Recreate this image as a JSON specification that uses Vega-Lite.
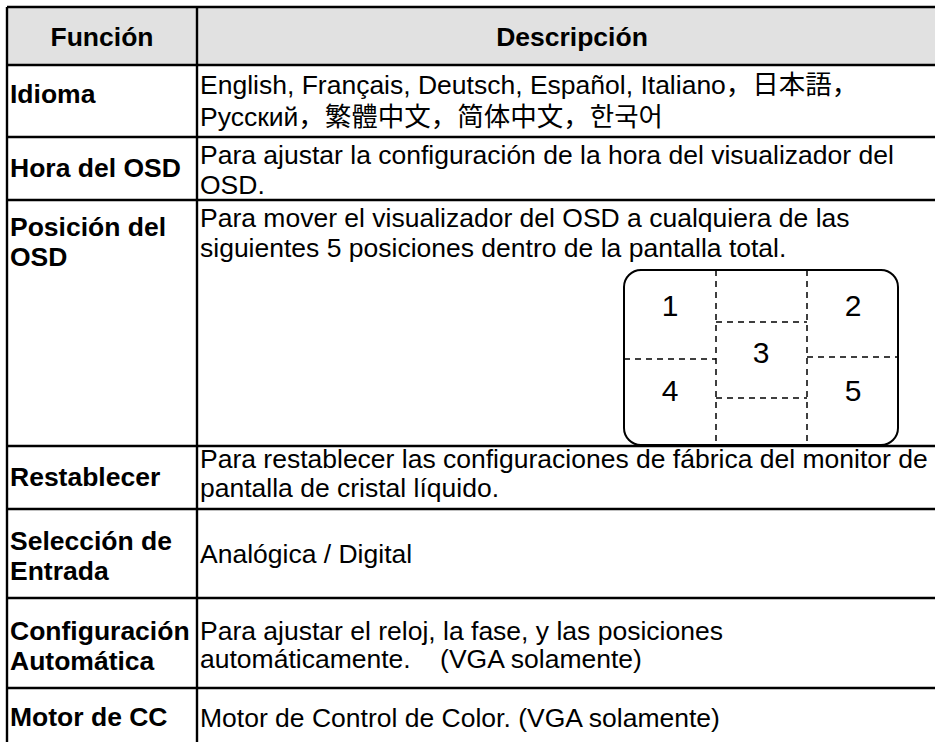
{
  "$schema": "https://vega.github.io/schema/vega-lite/v6.json",
  "width": 935,
  "height": 742,
  "padding": 0,
  "autosize": {"type": "none"},
  "background": "white",
  "config": {"view": {"stroke": null}},
  "datasets": {
    "shade": [{"x": 7, "x2": 935, "y": 7, "y2": 65}],
    "grid": [
      {"x": 7, "x2": 935, "y": 7, "y2": 7},
      {"x": 7, "x2": 935, "y": 65, "y2": 65},
      {"x": 7, "x2": 935, "y": 137, "y2": 137},
      {"x": 7, "x2": 935, "y": 200, "y2": 200},
      {"x": 7, "x2": 935, "y": 446, "y2": 446},
      {"x": 7, "x2": 935, "y": 509, "y2": 509},
      {"x": 7, "x2": 935, "y": 598, "y2": 598},
      {"x": 7, "x2": 935, "y": 688, "y2": 688},
      {"x": 7, "x2": 7, "y": 7, "y2": 742},
      {"x": 197, "x2": 197, "y": 7, "y2": 742}
    ],
    "screen": [{"x": 624, "x2": 898, "y": 270, "y2": 445}],
    "dashes": [
      {"x": 716, "x2": 716, "y": 270, "y2": 445},
      {"x": 807, "x2": 807, "y": 270, "y2": 445},
      {"x": 624, "x2": 716, "y": 359, "y2": 359},
      {"x": 716, "x2": 807, "y": 322, "y2": 322},
      {"x": 716, "x2": 807, "y": 398, "y2": 398},
      {"x": 807, "x2": 898, "y": 357, "y2": 357}
    ],
    "cells": [
      {"role": "header", "text": "Función", "x": 102, "y": 46},
      {"role": "header", "text": "Descripción", "x": 572, "y": 46},
      {"role": "label", "text": "Idioma", "x": 10, "y": 103},
      {"role": "desc", "text": "English, Français, Deutsch, Español, Italiano，日本語，", "x": 200, "y": 94},
      {"role": "desc", "text": "Русский，繁體中文，简体中文，한국어", "x": 200, "y": 126},
      {"role": "label", "text": "Hora del OSD", "x": 10, "y": 177},
      {"role": "desc", "text": "Para ajustar la configuración de la hora del visualizador del", "x": 200, "y": 164},
      {"role": "desc", "text": "OSD.", "x": 200, "y": 194},
      {"role": "label", "text": "Posición del", "x": 10, "y": 236},
      {"role": "label", "text": "OSD", "x": 10, "y": 266},
      {"role": "desc", "text": "Para mover el visualizador del OSD a cualquiera de las", "x": 200, "y": 227},
      {"role": "desc", "text": "siguientes 5 posiciones dentro de la pantalla total.", "x": 200, "y": 257},
      {"role": "label", "text": "Restablecer", "x": 10, "y": 486},
      {"role": "desc", "text": "Para restablecer las configuraciones de fábrica del monitor de", "x": 200, "y": 468},
      {"role": "desc", "text": "pantalla de cristal líquido.", "x": 200, "y": 497},
      {"role": "label", "text": "Selección de", "x": 10, "y": 550},
      {"role": "label", "text": "Entrada", "x": 10, "y": 580},
      {"role": "desc", "text": "Analógica / Digital", "x": 200, "y": 563},
      {"role": "label", "text": "Configuración", "x": 10, "y": 640},
      {"role": "label", "text": "Automática", "x": 10, "y": 670},
      {"role": "desc", "text": "Para ajustar el reloj, la fase, y las posiciones", "x": 200, "y": 640},
      {"role": "desc", "text": "automáticamente.\u00a0\u00a0\u00a0 (VGA solamente)", "x": 200, "y": 668},
      {"role": "label", "text": "Motor de CC", "x": 10, "y": 726},
      {"role": "desc", "text": "Motor de Control de Color. (VGA solamente)", "x": 200, "y": 727},
      {"role": "digit", "text": "1", "x": 670, "y": 316},
      {"role": "digit", "text": "2", "x": 853, "y": 316},
      {"role": "digit", "text": "3", "x": 761, "y": 363},
      {"role": "digit", "text": "4", "x": 670, "y": 401},
      {"role": "digit", "text": "5", "x": 853, "y": 401}
    ]
  },
  "encoding": {
    "x": {"field": "x", "type": "quantitative", "scale": {"domain": [0, 935], "nice": false, "zero": false}, "axis": null},
    "y": {"field": "y", "type": "quantitative", "scale": {"domain": [0, 742], "nice": false, "zero": false, "reverse": true}, "axis": null}
  },
  "layer": [
    {
      "data": {"name": "shade"},
      "mark": {"type": "rect", "fill": "#e1e1e1"},
      "encoding": {"x2": {"field": "x2"}, "y2": {"field": "y2"}}
    },
    {
      "data": {"name": "screen"},
      "mark": {"type": "rect", "fill": null, "fillOpacity": 0, "stroke": "#000", "strokeWidth": 2, "cornerRadius": 17},
      "encoding": {"x2": {"field": "x2"}, "y2": {"field": "y2"}}
    },
    {
      "data": {"name": "dashes"},
      "mark": {"type": "rule", "color": "#000", "strokeWidth": 1.5, "strokeDash": [6, 5]},
      "encoding": {"x2": {"field": "x2"}, "y2": {"field": "y2"}}
    },
    {
      "data": {"name": "grid"},
      "mark": {"type": "rule", "color": "#000", "strokeWidth": 2.4},
      "encoding": {"x2": {"field": "x2"}, "y2": {"field": "y2"}}
    },
    {
      "data": {"name": "cells"},
      "transform": [{"filter": "datum.role === 'header'"}],
      "mark": {"type": "text", "font": "Liberation Sans, Noto Sans CJK JP", "fontSize": 26.5, "fontWeight": "bold", "align": "center", "baseline": "alphabetic", "color": "#000"},
      "encoding": {"text": {"field": "text"}}
    },
    {
      "data": {"name": "cells"},
      "transform": [{"filter": "datum.role === 'label'"}],
      "mark": {"type": "text", "font": "Liberation Sans, Noto Sans CJK JP", "fontSize": 26.5, "fontWeight": "bold", "align": "left", "baseline": "alphabetic", "color": "#000"},
      "encoding": {"text": {"field": "text"}}
    },
    {
      "data": {"name": "cells"},
      "transform": [{"filter": "datum.role === 'desc'"}],
      "mark": {"type": "text", "font": "Liberation Sans, Noto Sans CJK JP", "fontSize": 26.5, "align": "left", "baseline": "alphabetic", "color": "#000"},
      "encoding": {"text": {"field": "text"}}
    },
    {
      "data": {"name": "cells"},
      "transform": [{"filter": "datum.role === 'digit'"}],
      "mark": {"type": "text", "font": "Liberation Sans", "fontSize": 30, "align": "center", "baseline": "alphabetic", "color": "#000"},
      "encoding": {"text": {"field": "text"}}
    }
  ]
}
